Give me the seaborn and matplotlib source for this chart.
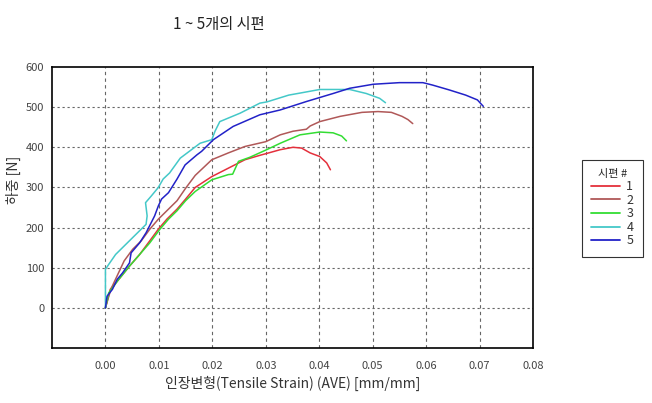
import matplotlib
matplotlib.use("Agg")
import matplotlib.pyplot as plt
import seaborn as sns
import pandas as pd
import numpy as np
from matplotlib.ticker import MultipleLocator, FixedLocator
from matplotlib.lines import Line2D

title = "1 ~ 5개의 시편"
xlabel = "인장변형(Tensile Strain) (AVE) [mm/mm]"
ylabel = "하중 [N]"
legend_title = "시편 #"
series_names = ["1", "2", "3", "4", "5"]
colors = ["#e4303c", "#b05858", "#33dd33", "#44c8c8", "#2222c8"]

x1 = [0, 0.0009, 0.0025, 0.0045, 0.0064, 0.0083, 0.0099, 0.0115, 0.0134, 0.0150, 0.0168, 0.0199,
      0.0230, 0.0261, 0.0289, 0.0300, 0.0327, 0.0351, 0.0367, 0.0383, 0.0401, 0.0414, 0.0421]
y1 = [0, 46, 71, 104, 133, 167, 196, 221, 246, 271, 300, 327,
      348, 369, 380, 384, 394, 400, 398, 386, 377, 361, 344]

x2 = [0, 0.0010, 0.0029, 0.0035, 0.0051, 0.0067, 0.0083, 0.0099, 0.0118, 0.0134, 0.0150, 0.0168,
      0.0199, 0.0230, 0.0261, 0.0300, 0.0327, 0.0351, 0.0376, 0.0383, 0.0401, 0.0439, 0.0480,
      0.0510, 0.0535, 0.0555, 0.0566, 0.0575]
y2 = [0, 46, 100, 117, 146, 167, 196, 221, 246, 267, 298, 330,
      369, 386, 402, 414, 431, 440, 445, 453, 464, 477, 487,
      489, 487, 477, 469, 459]

x3 = [0, 0.0006, 0.0025, 0.0045, 0.0064, 0.0083, 0.0102, 0.0118, 0.0134, 0.0150, 0.0168, 0.0199,
      0.0230, 0.0238, 0.0249, 0.0270, 0.0300, 0.0327, 0.0364, 0.0401, 0.0426, 0.0442, 0.0451]
y3 = [0, 37, 71, 104, 133, 162, 196, 221, 242, 267, 290, 319,
      332, 333, 365, 375, 393, 410, 431, 438, 436, 428, 416]

x4 = [0, 0, 0.0006, 0.0019, 0.0038, 0.0057, 0.0076, 0.0078, 0.0075, 0.0086, 0.0099, 0.0108,
      0.0120, 0.0140, 0.0177, 0.0199, 0.0205, 0.0214, 0.0252, 0.0289, 0.0302, 0.0343, 0.0364,
      0.0401, 0.0457, 0.0488, 0.0513, 0.0524]
y4 = [0, 96, 108, 133, 158, 183, 208, 229, 262, 279, 300, 321,
      336, 373, 410, 419, 440, 464, 485, 510, 513, 530, 535,
      544, 544, 534, 522, 511]

x5 = [0, 0.0003, 0.0013, 0.0022, 0.0032, 0.0045, 0.0048, 0.0064, 0.0076, 0.0092, 0.0099, 0.0105,
      0.0118, 0.0134, 0.0149, 0.0171, 0.0180, 0.0202, 0.0239, 0.0289, 0.0327, 0.0376, 0.0426,
      0.0457, 0.0501, 0.0550, 0.0594, 0.0612, 0.0643, 0.0674, 0.0696, 0.0707]
y5 = [0, 29, 46, 71, 87, 112, 137, 162, 187, 229, 254, 271,
      287, 321, 356, 381, 390, 419, 452, 481, 493, 514, 534,
      547, 557, 561, 561, 555, 543, 530, 518, 502]

xs = [x1, x2, x3, x4, x5]
ys = [y1, y2, y3, y4, y5]

frames = []
for name, xv, yv in zip(series_names, xs, ys):
    frames.append(pd.DataFrame({"strain": xv, "load": yv, "series": name}))
df = pd.concat(frames, ignore_index=True)

sns.set_style("white")
plt.rcParams["font.family"] = ["Noto Sans CJK KR", "DejaVu Sans"]

fig = plt.figure(figsize=(6.52, 4.03), dpi=100)
ax = fig.add_axes([52 / 652, 1 - 348 / 403, (533 - 52) / 652, (348 - 67) / 403])

palette = dict(zip(series_names, colors))
sns.lineplot(data=df, x="strain", y="load", hue="series", units="series",
             estimator=None, sort=False, palette=palette, linewidth=1.1, ax=ax,
             legend=False)

ax.set_xlim(-0.01, 0.08)
ax.set_ylim(-100, 600)

xt = [round(-0.01 + 0.01 * i, 2) for i in range(10)]
ax.xaxis.set_major_locator(FixedLocator(xt))
ax.set_xticklabels(["" if v < 0 else f"{v:.2f}" for v in xt])
ax.xaxis.set_minor_locator(MultipleLocator(0.005))
yt = list(range(-100, 601, 100))
ax.yaxis.set_major_locator(FixedLocator(yt))
ax.set_yticklabels(["" if v < 0 else str(v) for v in yt])
ax.yaxis.set_minor_locator(MultipleLocator(50))

ax.tick_params(axis="both", which="both", direction="inout", colors="black",
               labelcolor="#444444", labelsize=8)
ax.tick_params(axis="both", which="major", length=7, width=0.9)
ax.tick_params(axis="both", which="minor", length=7, width=0.9)
ax.tick_params(axis="x", pad=6)
ax.tick_params(axis="y", pad=2)

for v in np.arange(0, 0.071, 0.01):
    ax.axvline(v, color="#666666", lw=0.8, ls=(0, (3, 3)), zorder=0)
for v in range(0, 501, 100):
    ax.axhline(v, color="#666666", lw=0.8, ls=(0, (2, 2.5)), zorder=0)

for s in ax.spines.values():
    s.set_visible(True)
    s.set_color("black")
    s.set_linewidth(1.2)

ax.set_xlabel(xlabel, fontsize=10, color="#333333", labelpad=3)
ax.set_ylabel(ylabel, fontsize=10, color="#333333")
ax.yaxis.set_label_coords(-0.064, 0.6)

fig.text(219 / 652, 1 - 25 / 403, title, ha="center", va="center",
         fontsize=11, color="#222222")

handles = [Line2D([0], [0], color=c, lw=1.3) for c in colors]
leg = fig.legend(handles, series_names, title=legend_title, loc="upper left",
                 bbox_to_anchor=(582 / 652, 1 - 160 / 403), frameon=True,
                 fancybox=False, fontsize=9, title_fontsize=8,
                 handlelength=2.3, handletextpad=0.5, labelspacing=0.05,
                 borderpad=0.75, borderaxespad=0)
leg.get_frame().set_edgecolor("black")
leg.get_frame().set_linewidth(0.8)
for t in leg.get_texts():
    t.set_color("#333333")

fig.savefig("out.png", dpi=100)
